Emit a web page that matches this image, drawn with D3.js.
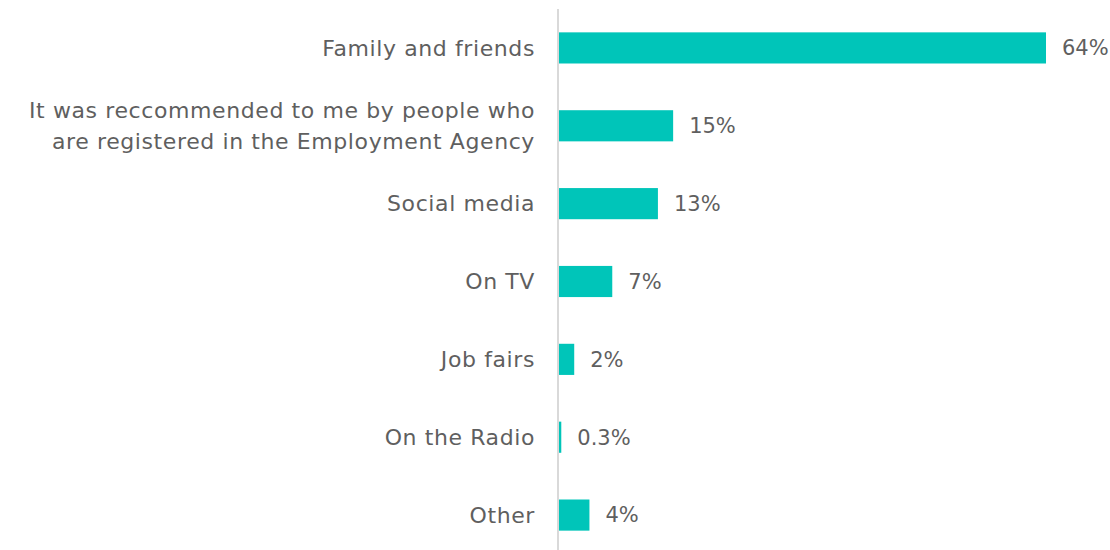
<!DOCTYPE html>
<html>
<head>
<meta charset="utf-8">
<script src="https://cdn.jsdelivr.net/npm/d3@7"></script>
<style>
  html, body { margin: 0; padding: 0; background: #ffffff; }
  svg { display: block; }
  text { font-family: "DejaVu Sans", sans-serif; fill: #5f5f5f; }
</style>
</head>
<body>
<svg id="chart" width="1110" height="550"></svg>
<script>
// How respondents heard about the agency (share of respondents, %)
const categories = [
  ["Family and friends"],
  ["It was reccommended to me by people who", "are registered in the Employment Agency"],
  ["Social media"],
  ["On TV"],
  ["Job fairs"],
  ["On the Radio"],
  ["Other"]
];
const values = [64, 15, 13, 7, 2, 0.3, 4];
const valueLabels = ["64%", "15%", "13%", "7%", "2%", "0.3%", "4%"];

const svg = d3.select("#chart");
const axisX = 558;

const x = d3.scaleLinear().domain([0, 64]).range([axisX + 1, 1046]);
const y = d3.scaleBand()
  .domain(d3.range(categories.length))
  .range([9, 554])
  .paddingInner(0.6)
  .paddingOuter(0.3);

const rows = svg.append("g")
  .selectAll("g")
  .data(values)
  .join("g");

rows.append("rect")
  .attr("x", x(0))
  .attr("y", (d, i) => y(i))
  .attr("width", d => x(d) - x(0))
  .attr("height", y.bandwidth())
  .attr("fill", "#00C5B9");

rows.append("text")
  .attr("x", d => x(d) + 16)
  .attr("y", (d, i) => y(i) + y.bandwidth() / 2)
  .attr("dy", "0.35em")
  .attr("font-size", 21)
  .text((d, i) => valueLabels[i]);

// category labels, right-aligned against the axis
const lineH = 31;
svg.append("g")
  .selectAll("text")
  .data(categories)
  .join("text")
  .attr("text-anchor", "end")
  .attr("font-size", 22)
  .attr("letter-spacing", 0.6)
  .attr("y", (d, i) => y(i) + y.bandwidth() / 2 - (d.length - 1) * lineH / 2)
  .each(function (lines) {
    d3.select(this).selectAll("tspan")
      .data(lines)
      .join("tspan")
      .attr("x", 535)
      .attr("dy", (l, j) => j === 0 ? "0.35em" : lineH)
      .text(l => l);
  });

// vertical baseline
svg.append("line")
  .attr("x1", axisX).attr("x2", axisX)
  .attr("y1", 9).attr("y2", 550)
  .attr("stroke", "#d9d9d9")
  .attr("stroke-width", 2);
</script>
</body>
</html>
